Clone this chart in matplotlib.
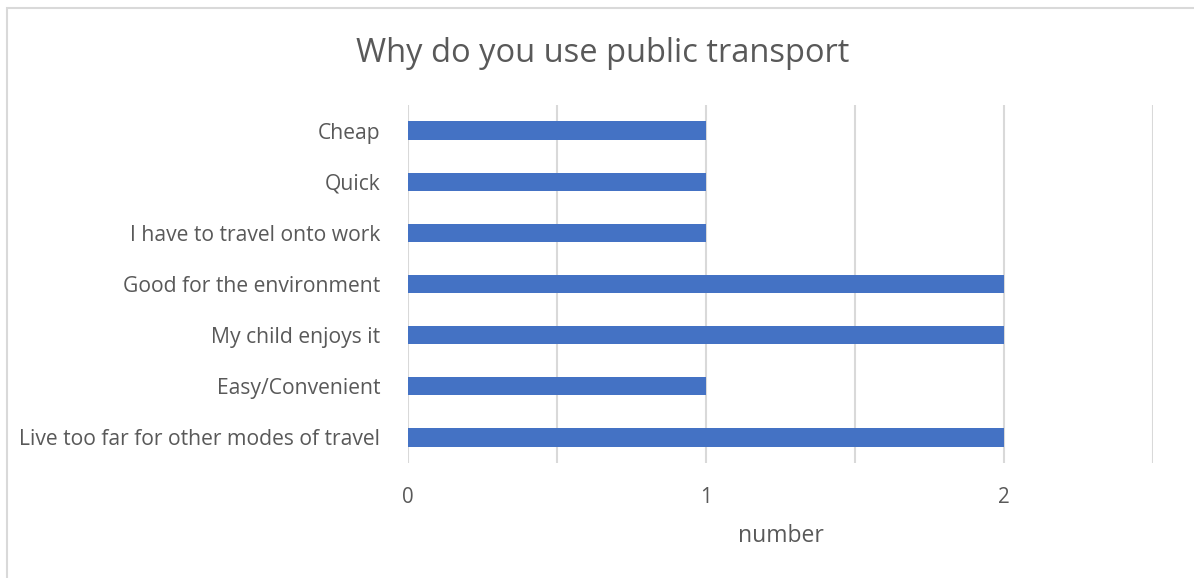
import matplotlib.pyplot as plt
from matplotlib.patches import Rectangle

# Reasons, listed bottom to top as they appear on the chart
reasons = [
    "Live too far for other modes of travel",
    "Easy/Convenient",
    "My child enjoys it",
    "Good for the environment",
    "I have to travel onto work",
    "Quick",
    "Cheap",
]
counts = [2, 1, 2, 2, 1, 1, 1]

x_ticks = [0, 0.5, 1, 1.5, 2, 2.5]
x_tick_labels = ["0", "", "1", "", "2", ""]

TEXT = "#595959"
GRID = "#d9d9d9"
BAR = "#4472c4"

plt.rcParams['font.family'] = ['Open Sans', 'DejaVu Sans']

fig = plt.figure(figsize=(11.94, 5.78), dpi=100)

# light chart-area border, running off the right and bottom edges
fig.patches.append(Rectangle((7 / 1194, -0.1), 1.1, 1.1 - 8 / 578, transform=fig.transFigure,
                             fill=False, edgecolor=GRID, linewidth=1.5, zorder=0))

ax = fig.add_axes([408 / 1194, 1 - 463 / 578, (1153 - 408) / 1194, 358 / 578])

pos = range(len(reasons))
ax.barh(pos, counts, height=0.36, color=BAR, zorder=3)

ax.set_ylim(-0.5, len(reasons) - 0.5)
ax.set_xlim(0, 2.5)
ax.set_yticks(list(pos))
ax.set_yticklabels(reasons, fontsize=15.2, color=TEXT)
ax.set_xticks(x_ticks)
ax.set_xticklabels(x_tick_labels, fontsize=14.8, color=TEXT)
ax.tick_params(axis='both', length=0)
ax.tick_params(axis='y', pad=20)
ax.tick_params(axis='x', pad=17)

ax.grid(axis='x', color=GRID, linewidth=1.5, zorder=0)
for s in ax.spines.values():
    s.set_visible(False)

ax.set_xlabel("number", fontsize=16.5, color=TEXT, labelpad=12)
fig.text(603 / 1194, 1 - 54 / 578, "Why do you use public transport", fontsize=23.5,
         color=TEXT, ha='center', va='center')

fig.savefig("out.png", dpi=100)
